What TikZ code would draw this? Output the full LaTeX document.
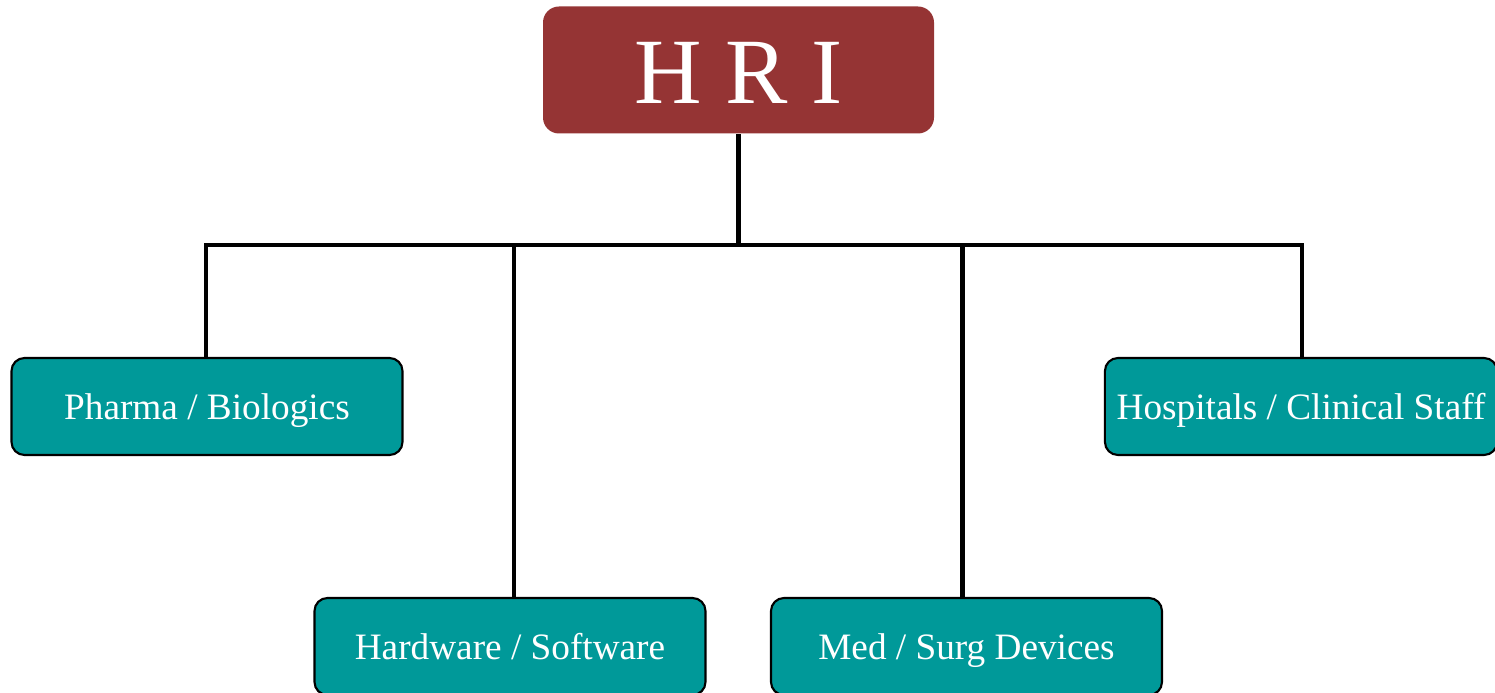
\documentclass[tikz,border=0pt]{standalone}
\usepackage{fontspec}
\setmainfont{Liberation Serif}
\usetikzlibrary{positioning}
\definecolor{hrired}{RGB}{149,52,52}
\definecolor{hriteal}{RGB}{0,153,153}
\tikzset{
    topbox/.style = {rectangle, rounded corners=0.16cm, minimum width=3.91cm, minimum height=1.27cm, inner sep=2pt, text height=0.67cm, text depth=0pt, text centered, fill=hrired, text=white, font=\fontsize{26.6}{30}\selectfont},
    areabox/.style = {rectangle, rounded corners=0.13cm, minimum width=3.91cm, minimum height=0.97cm, text height=0.25cm, text depth=0pt, text centered, draw=black, line width=0.6pt, fill=hriteal, text=white, font=\fontsize{10.6}{12}\selectfont},
    link/.style = {line width=1.4pt, black}
}
\begin{document}
\begin{tikzpicture}
\useasboundingbox (0,0) rectangle (14.95,-6.93);

% Top node
\node[topbox] (hri) at (7.385,-0.70) {H R I};

% Areas
\node[areabox] (pharma) at (2.07,-4.065) {Pharma / Biologics};
\node[areabox, minimum width=3.88cm] (hosp) at (13.01,-4.065) {Hospitals / Clinical Staff};
\node[areabox] (hard) at (5.10,-6.465) {Hardware / Software};
\node[areabox] (med) at (9.665,-6.465) {Med / Surg Devices};

% Tree lines
\coordinate (bus) at (7.385,-2.45);
\draw[link] (hri.south) -- (bus);
\draw[link] ([xshift=-0.01cm]pharma.north) |- (bus) -| ([xshift=0.01cm]hosp.north);
\draw[link] ([xshift=0.04cm]hard.north) |- (bus);
\draw[link] ([xshift=-0.04cm]med.north) |- (bus);
\end{tikzpicture}
\end{document}
